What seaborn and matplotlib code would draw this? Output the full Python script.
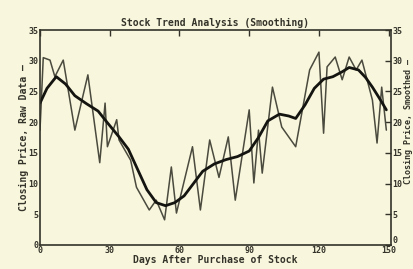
import numpy as np
import pandas as pd
import matplotlib
matplotlib.use("Agg")
import matplotlib.pyplot as plt
import seaborn as sns

raw_days = [0, 1.4, 4.3, 6.4, 10, 15, 20.6, 25.7, 28, 29, 33, 34, 39, 41.5, 47, 50, 53.6,
            56.5, 58.7, 65.6, 69, 73, 77, 81, 84, 90, 92, 94, 95.6, 100, 104, 110, 116,
            120, 122, 123.5, 127, 130, 133, 136, 138.5, 143, 145, 147, 149]
raw_price = [18.7, 30.5, 30.1, 27.4, 30.1, 18.7, 27.7, 13.4, 23.1, 16.0, 20.4, 17.1, 13.8,
             9.4, 5.7, 7.3, 4.1, 12.7, 5.2, 16.0, 5.7, 17.1, 11.0, 17.6, 7.3, 22.0, 10.1,
             18.7, 11.7, 25.7, 19.2, 16.0, 28.5, 31.4, 18.2, 29.0, 30.6, 26.9, 30.6, 28.5,
             30.1, 23.6, 16.6, 25.7, 18.7]

smooth_days = [0, 3, 7, 11, 15, 20, 25, 29, 34, 38, 42, 46, 50, 54, 58, 62, 66, 70, 75,
               80, 85, 90, 94, 98, 103, 107, 110, 114, 118, 122, 126, 130, 133, 137, 140,
               143, 146, 149]
smooth_price = [23.1, 25.5, 27.4, 26.2, 24.3, 23.0, 21.8, 19.9, 17.6, 15.6, 12.3, 9.0, 6.9,
                6.4, 6.9, 8.0, 10.0, 12.0, 13.2, 13.9, 14.4, 15.3, 17.5, 20.2, 21.3, 21.0,
                20.6, 22.8, 25.5, 27.0, 27.4, 28.2, 28.9, 28.5, 27.3, 25.7, 23.9, 22.0]

x_ticks = [0, 30, 60, 90, 120, 150]
y_ticks = [0, 5, 10, 15, 20, 25, 30, 35]

sns.set_theme(style="white")
plt.rcParams['font.family'] = ['DejaVu Sans Mono', 'DejaVu Sans']
bg = "#f8f6dc"
ink = "#33332a"

fig = plt.figure(figsize=(4.14, 2.69), dpi=100, facecolor=bg)
ax = fig.add_axes([40/414, 24/269, 351/414, 215/269])
ax.set_facecolor(bg)

raw = pd.DataFrame({"day": raw_days, "price": raw_price})
sm = pd.DataFrame({"day": smooth_days, "price": smooth_price})
sns.lineplot(data=raw, x="day", y="price", ax=ax, color="#4a4a3e", lw=1.1, sort=False)
sns.lineplot(data=sm, x="day", y="price", ax=ax, color="#141410", lw=2.0)

ax.set_xlim(0, 151)
ax.set_ylim(0, 35)
ax.set_xticks(x_ticks)
ax.set_yticks(y_ticks)
ax.tick_params(axis="both", direction="in", length=4, width=1, colors=ink,
               labelsize=6, pad=1, top=True, right=True, labelright=True)
for lab in ax.get_xticklabels() + ax.get_yticklabels():
    lab.set_fontweight("bold")
for t in ax.yaxis.get_major_ticks():
    t.label2.set_fontweight("bold")
ax.yaxis.get_major_ticks()[0].label2.set_va("bottom")
for s in ax.spines.values():
    s.set_color(ink)
    s.set_linewidth(1.2)

ax.set_title("Stock Trend Analysis (Smoothing)", fontsize=7, fontweight="bold",
             color=ink, pad=3)
ax.set_xlabel("Days After Purchase of Stock", fontsize=7, fontweight="bold",
              color=ink, labelpad=0)
ax.set_ylabel("Closing Price, Raw Data \u2014", fontsize=7, fontweight="bold",
              color=ink, labelpad=0)
fig.text(404/414, 0.55, "Closing Price, Smoothed \u2014", rotation=90, fontsize=6,
         fontweight="bold", color=ink, ha="left", va="center")

fig.savefig("out.png", dpi=100, facecolor=bg)
